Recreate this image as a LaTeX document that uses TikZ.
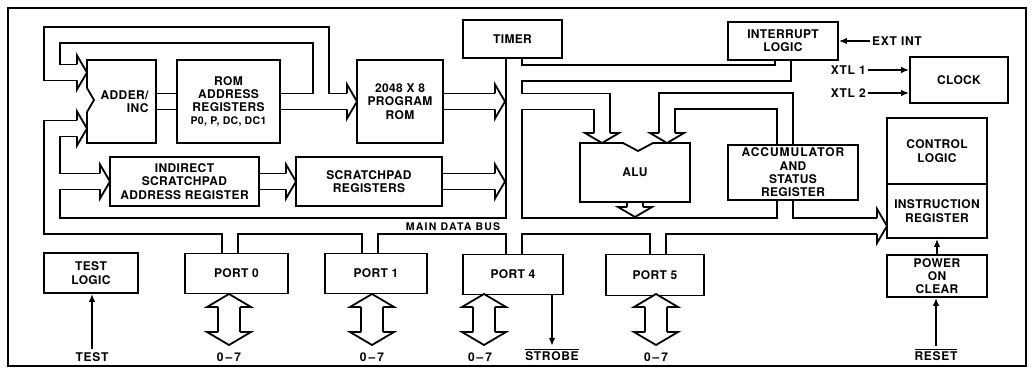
\documentclass[tikz,border=0pt]{standalone}
\usepackage{fontspec}
\newfontfamily\chipfont{TeX Gyre Heros}[LetterSpace=3]
\usetikzlibrary{arrows.meta, backgrounds}

\newcommand\ovl[1]{\leavevmode\vbox{\hrule height 1.3pt\kern 1.6pt\hbox{#1}}}

% every bus of the chip, drawn once black and once white
\newcommand\busnet{%
  % address side
  \draw[bus] (adder.east) -- (romaddr.west);
  \draw[bus] (romaddr.east) -- (348,101.5);
  \draw[bus] (321,101.5) |- (52,35) |- (78,72.5);
  % main data bus
  \draw[bus] (78,128.5) -| (52,226) -- (878,226);
  \draw[bus] (52,181.5) -- (101,181.5);
  \draw[bus] (isar.east) -- (287,181.5);
  \draw[bus] (scratch.east) -- (496,181.5);
  \draw[bus] (prom.east) -- (496,101.5);
  \draw[bus] (timer.south -| 514,0) -- (514,256);
  \draw[bus] (514,73) -| (intlogic.south);
  \draw[bus] (514,101.5) -| (602,134);
  \draw[bus] (785,146) |- (667,101) -- (667,134);
  \draw[bus] (alu.south) -- (635,208);
  \draw[bus] (785,199) -- (785,226);
  % ports
  \draw[bus] (230,226) -- (230,255);
  \draw[bus] (370,226) -- (370,255);
  \draw[bus] (658,226) -- (658,256);
  \foreach \px in {229,372,484,656} {\draw[wbus] (\px,305) -- (\px,334);}
}

\begin{document}
\begin{tikzpicture}[x=1pt, y=-1pt,
    lbl/.style={font=\chipfont\bfseries\fontsize{12}{13.3}\selectfont, align=center, inner sep=0pt},
    small/.style={font=\chipfont\bfseries\fontsize{12}{13}\selectfont\addfontfeature{LetterSpace=6}, inner sep=0pt},
    box/.style={lbl, draw, fill=white, line width=1.8pt},
    wall/.style={line width=1.8pt},
    sig/.style={line width=1.6pt, -{Latex[length=8pt, width=6.5pt]}},
    bushead/.pic={\filldraw[wall, fill=white] (0,-8) -- (0,-17) -- (10,0) -- (0,17) -- (0,8);},
    porthead/.pic={\filldraw[wall, fill=white] (0,-11) -- (0,-22) -- (13,0) -- (0,22) -- (0,11);}
  ]
  \useasboundingbox (0,0) rectangle (1032,371);

  % address blocks
  \filldraw[wall, fill=white] (87,60) -- (156,60) -- (156,143) -- (87,143) -- (87,112) -- (94,100) -- (87,88) -- cycle;
  \node[lbl, text width=54pt, align=right, minimum width=69pt, minimum height=83pt] (adder) at (121.5,101.5) {ADDER/\\INC};
  \node[box, minimum width=103pt, minimum height=83pt] (romaddr) at (228.5,101.5)
    {ROM\\ADDRESS\\REGISTERS\\{\fontsize{10.5}{13.3}\selectfont P0, P, DC, DC1}};
  \node[box, minimum width=86pt, minimum height=83pt] (prom) at (400,101.5) {2048 X 8\\PROGRAM\\ROM};
  \node[box, minimum width=149pt, minimum height=49pt] (isar) at (184.5,181.5) {INDIRECT\\SCRATCHPAD\\ADDRESS REGISTER};
  \node[box, minimum width=146pt, minimum height=49pt] (scratch) at (369,181.5) {SCRATCHPAD\\REGISTERS};

  % timer, interrupt, clock
  \node[box, minimum width=99pt, minimum height=38pt] (timer) at (512.5,39) {TIMER};
  \node[box, minimum width=110pt, minimum height=38pt] (intlogic) at (783,41) {INTERRUPT\\LOGIC};
  \node[box, minimum width=98pt, minimum height=46pt] (clock) at (959,80) {CLOCK};

  % alu and accumulator
  \filldraw[wall, fill=white] (580,143) -- (623,143) -- (638,151) -- (653,143) -- (690,143) -- (690,202) -- (580,202) -- cycle;
  \node[lbl, minimum width=110pt, minimum height=59pt] (alu) at (635,172.5) {ALU};
  \node[box, minimum width=130pt, minimum height=55pt] (acc) at (793,172.5)
    {{\addfontfeature{LetterSpace=8}ACCUMULATOR}\\AND\\STATUS\\REGISTER};

  % control
  \node[box, minimum width=100pt, minimum height=66pt] (ctrl) at (937,151) {CONTROL\\LOGIC};
  \node[box, minimum width=100pt, minimum height=54pt] (ir) at (937,211) {INSTRUCTION\\REGISTER};
  \node[box, minimum width=100pt, minimum height=42pt] (poc) at (937,276) {POWER\\ON\\CLEAR};

  % bottom row
  \node[box, minimum width=94pt, minimum height=40pt] (testlogic) at (91,273) {TEST\\LOGIC};
  \node[box, minimum width=103pt, minimum height=40pt] (port0) at (236.5,273.5) {PORT 0};
  \node[box, minimum width=102pt, minimum height=40pt] (port1) at (376,273.5) {PORT 1};
  \node[box, minimum width=100pt, minimum height=40pt] (port4) at (513,274.5) {PORT 4};
  \node[box, minimum width=98pt, minimum height=41pt] (port5) at (655,275) {PORT 5};

  % frame and buses
  \begin{scope}[on background layer]
    \draw[wall] (8,8) rectangle (1026,366);
    \begin{scope}[bus/.style={line width=17.8pt, black}, wbus/.style={line width=23.8pt, black}]
      \busnet
    \end{scope}
    \begin{scope}[bus/.style={line width=14.2pt, white}, wbus/.style={line width=20.2pt, white}]
      \busnet
    \end{scope}
  \end{scope}

  % bus arrow heads
  \foreach \hx/\hy in {347/101.5, 77/72.5, 77/128.5, 100/181.5, 286/181.5, 495/181.5, 495/101.5, 877/226}
    {\pic at (\hx,\hy) {bushead};}
  \foreach \hx/\hy in {602/133, 667/133, 635/207}
    {\pic[rotate=-90] at (\hx,\hy) {bushead};}
  \foreach \px in {229,372,484,656}
    {\pic[rotate=90] at (\px,307) {porthead}; \pic[rotate=-90] at (\px,332) {porthead};}

  \node[lbl, font=\chipfont\bfseries\fontsize{10.5}{12}\selectfont\addfontfeature{LetterSpace=12}] (busname) at (453,227) {MAIN DATA BUS};

  % pins
  \node[small] (testin) at (92,357) {TEST};
  \foreach \px/\nm in {229/p0, 372/p1, 480/p4, 656/p5}
    {\node[small] (bits\nm) at (\px,357) {0\,\textendash\,7};}
  \node[small] (strobe) at (552,355) {\ovl{STROBE}};
  \node[small] (reset) at (936,355) {\ovl{RESET}};
  \node[small, anchor=west] (extint) at (872,41) {EXT INT};
  \node[small, anchor=east] (xtl1) at (866,70) {XTL 1};
  \node[small, anchor=east] (xtl2) at (866,93) {XTL 2};

  \draw[sig] ([yshift=3pt]testin.north) -- (testin.north |- testlogic.south);
  \draw[sig] (port4.south -| strobe.north) -- ([yshift=3pt]strobe.north);
  \draw[sig] ([yshift=3pt]reset.north) -- (reset.north |- poc.south);
  \draw[sig] (poc.north) -- (ir.south);
  \draw[sig] ([xshift=-2pt]extint.west) -- (intlogic.east |- extint.west);
  \draw[sig] ([xshift=2pt]xtl1.east) -- (clock.west |- xtl1.east);
  \draw[sig] ([xshift=2pt]xtl2.east) -- (clock.west |- xtl2.east);
\end{tikzpicture}
\end{document}
